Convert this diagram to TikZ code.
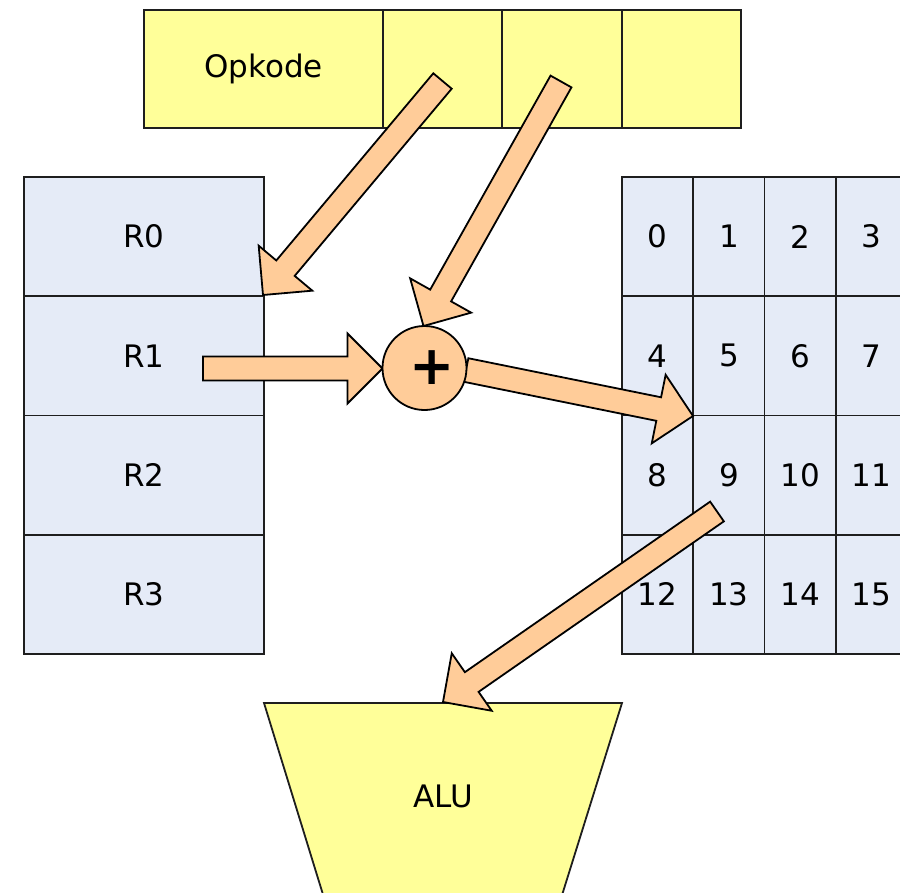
\documentclass[tikz,border=0pt]{standalone}
\usepackage{fontspec}
\setmainfont{DejaVu Sans}
\usetikzlibrary{calc}
\definecolor{opyel}{HTML}{FFFF99}
\definecolor{regblue}{HTML}{E5EBF7}
\definecolor{peach}{HTML}{FFCC99}
\definecolor{edge}{HTML}{1E1E1E}
\tikzset{
  cellbox/.style={draw=edge, line width=1.8pt, rectangle, inner sep=0pt, outer sep=0pt,
     font=\fontsize{31}{37}\selectfont},
  opcell/.style={cellbox, fill=opyel, minimum height=118pt},
  regcell/.style={cellbox, fill=regblue, minimum width=240pt, minimum height=119.25pt},
  memcell/.style={cellbox, fill=regblue, minimum width=71.25pt, minimum height=119.25pt},
  fatarrow/.style={fill=peach, draw=black, line width=1.8pt, line join=miter},
  addcircle/.style={circle, draw=black, line width=1.8pt, fill=peach, minimum size=84pt, inner sep=0pt},
  alubox/.style={fill=opyel, draw=edge, line width=1.8pt},
}
\newcommand\blockarrow[2]{%
  \coordinate (hb) at ($(#2)!35pt!(#1)$);
  \filldraw[fatarrow] ($(#1)!12pt!90:(#2)$) -- ($(hb)!12pt!-90:(#1)$)
     -- ($(hb)!35pt!-90:(#1)$) -- (#2) -- ($(hb)!35pt!90:(#1)$)
     -- ($(hb)!12pt!90:(#1)$) -- ($(#1)!12pt!-90:(#2)$) -- cycle;}
\begin{document}
\begin{tikzpicture}[x=1pt,y=-1pt]
\clip (0,0) rectangle (900,892);
\useasboundingbox (0,0) rectangle (900,892);
% opcode
\node[opcell, minimum width=239pt] (op0) at (263.5,69) {Opkode};
\node[opcell, minimum width=119pt] (op1) at (442.5,69) {};
\node[opcell, minimum width=120pt] (op2) at (562,69) {};
\node[opcell, minimum width=119pt] (op3) at (681.5,69) {};
% registers
\foreach \i in {0,...,3} {
  \node[regcell] (r\i) at (144, {177+119.25*\i+59.625}) {R\i};
}
% memory grid
\foreach \r in {0,...,3} {
  \foreach \c in {0,...,3} {
    \pgfmathtruncatemacro\n{4*\r+\c}
    \node[memcell] (m\n) at ({622+71.25*\c+35.625}, {177+119.25*\r+59.625}) {\n};
  }
}
% ALU
\coordinate (alutl) at (264,703);
\coordinate (alutr) at (622,703);
\draw[alubox] (alutl) -- (alutr) -- (548,940) -- (337,940) -- cycle;
\node[font=\fontsize{31}{37}\selectfont] (alu) at (443,796) {ALU};
% arrow end points
\coordinate (a1s) at (442.5,81);
\coordinate (a1e) at (263,295);
\coordinate (a2s) at (561,81.5);
\coordinate (a2e) at (423.5,326);
\coordinate (a3s) at (203,368.5);
\coordinate (a3e) at (382.5,368.5);
\coordinate (a4s) at (466,370);
\coordinate (a4e) at (693,416);
\coordinate (a5s) at (717,511.5);
\coordinate (a5e) at (443,702);
\blockarrow{a1s}{a1e}
\blockarrow{a2s}{a2e}
\blockarrow{a3s}{a3e}
\blockarrow{a4s}{a4e}
\blockarrow{a5s}{a5e}
% adder
\node[addcircle] (add) at (424.5,368) {};
\node[font=\fontsize{54}{60}\selectfont\bfseries, inner sep=0pt] (addsym) at (432.5,368) {+};
\end{tikzpicture}
\end{document}
